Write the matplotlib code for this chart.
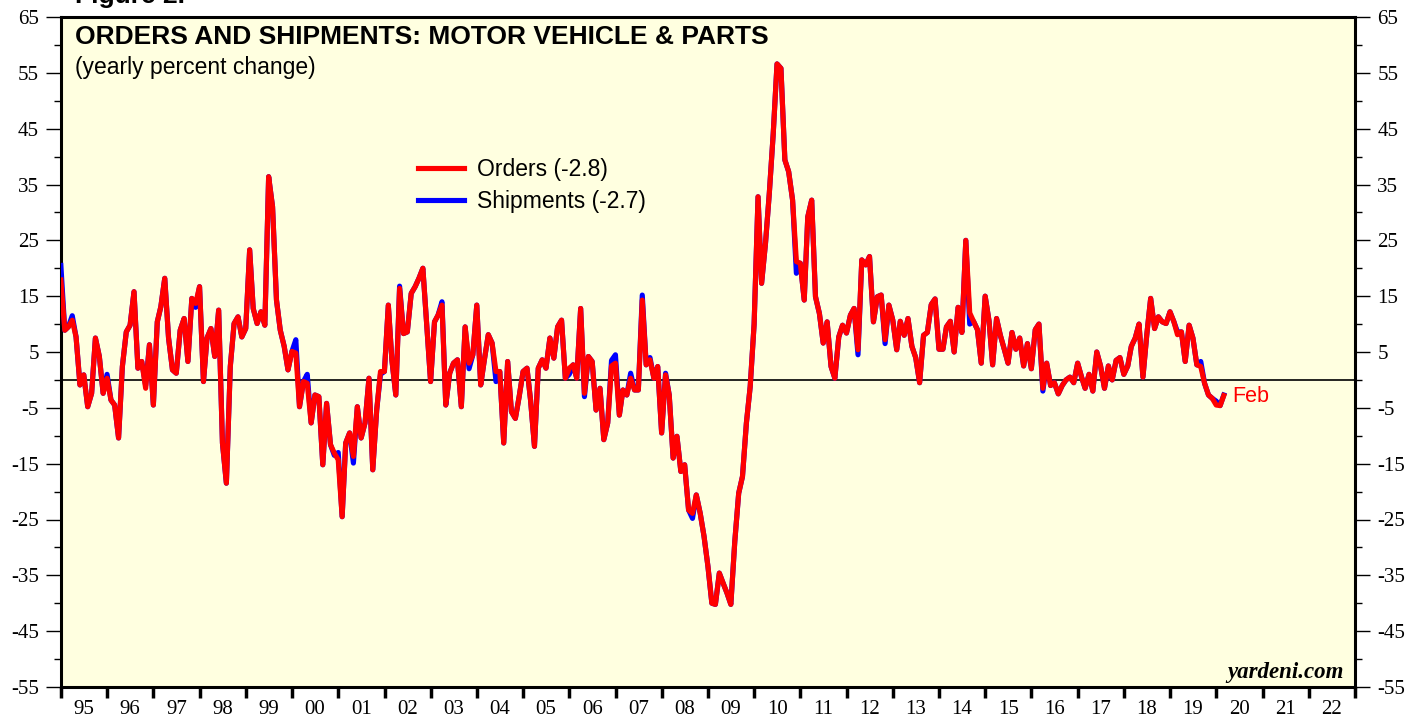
import matplotlib
matplotlib.use("Agg")
import matplotlib.pyplot as plt
import pandas as pd

plt.rcParams["font.family"] = ["Liberation Serif", "DejaVu Serif"]
plt.rcParams["axes.unicode_minus"] = False

# monthly yearly % change, Dec 1994 .. Feb 2020
orders_1 = [
    17.9, 8.9, 9.5, 10.7, 7.7, -0.9, 0.9, -4.8, -2.4, 7.5, 4.2, -2.4,
    0.3, -3.6, -4.5, -10.4, 2.4, 8.6, 9.8, 15.8, 2.1, 3.3, -1.5, 6.3,
    -4.5, 10.4, 13.1, 18.2, 7.5, 1.8, 1.2, 8.9, 11.0, 3.3, 14.6, 13.7,
    16.7, -0.3, 7.5, 9.2, 4.2, 12.5, -11.3, -18.5, 2.4, 10.1, 11.3, 7.7,
    9.2, 23.3, 12.8, 10.1, 12.2, 9.8, 36.4, 31.0, 14.3, 8.9, 6.0, 1.8,
]
orders_2 = [
    5.1, 4.8, -4.8, -0.3, -0.6, -7.7, -2.7, -3.0, -15.2, -4.2, -11.6, -13.1,
    -14.3, -24.5, -11.3, -9.5, -13.7, -4.8, -10.4, -7.7, 0.3, -16.1, -5.4, 1.5,
    1.5, 13.4, 3.6, -2.7, 16.4, 8.3, 8.6, 15.5, 16.7, 18.2, 20.0, 10.1,
    -0.3, 10.4, 11.6, 13.4, -4.5, 1.2, 3.0, 3.6, -4.8, 9.5, 3.0, 4.5,
    13.4, -0.9, 3.6, 8.1, 6.6, 1.5, 1.5, -11.3, 3.3, -5.7, -6.9, -3.0,
]
orders_3 = [
    1.5, 2.1, -3.6, -11.9, 2.1, 3.6, 2.1, 7.5, 3.9, 9.5, 10.7, 0.3,
    2.1, 2.7, 0.3, 12.8, -2.4, 4.2, 3.3, -5.4, -1.5, -10.7, -7.7, 2.5,
    3.0, -6.3, -1.8, -2.7, 0.3, -1.8, -1.8, 14.3, 2.7, 3.6, 0.3, 2.4,
    -9.5, 0.9, -2.7, -14.0, -10.1, -16.4, -15.2, -23.3, -23.9, -20.6, -23.9, -28.0,
    -33.4, -40.0, -40.2, -34.6, -36.4, -38.2, -40.2, -29.0, -20.3, -17.3, -7.7, -1.2,
]
orders_4 = [
    10.0, 32.8, 17.3, 24.5, 33.4, 44.1, 56.6, 55.8, 39.4, 37.3, 32.2, 21.2,
    20.9, 14.3, 29.2, 32.2, 14.9, 11.9, 6.6, 10.4, 2.4, 0.3, 7.7, 9.8,
    8.4, 11.6, 12.8, 5.4, 21.5, 20.6, 22.1, 10.4, 14.9, 15.2, 7.2, 13.4,
    10.7, 5.4, 10.5, 8.0, 11.0, 6.0, 4.0, -0.5, 8.0, 8.5, 13.5, 14.5,
    5.5, 5.5, 9.5, 10.5, 5.0, 13.0, 8.5, 25.0, 12.0, 10.5, 9.0, 3.0,
]
orders_5 = [
    15.0, 10.5, 2.7, 11.0, 8.0, 5.5, 3.0, 8.5, 5.5, 7.5, 2.5, 6.5,
    2.0, 9.0, 10.0, -1.5, 3.0, -1.0, -0.5, -2.5, -1.0, 0.0, 0.5, -0.5,
    3.0, 0.5, -1.5, 1.0, -2.0, 5.0, 2.5, -1.5, 2.5, 0.0, 3.5, 4.0,
    1.0, 2.5, 6.0, 7.5, 10.0, 0.5, 8.0, 14.6, 9.2, 11.3, 10.4, 10.1,
    12.2, 10.4, 8.1, 8.6, 3.3, 9.8, 7.5, 2.7, 2.4, -0.6, -2.7, -3.3,
    -4.5, -4.6, -2.8,
]

shipments_1 = [
    20.5, 8.9, 9.5, 11.5, 7.7, -0.9, 0.9, -4.8, -2.4, 7.5, 4.2, -2.4,
    1.0, -3.6, -4.5, -10.4, 2.4, 8.6, 9.8, 15.8, 2.1, 3.3, -1.0, 6.3,
    -4.5, 10.4, 13.1, 18.2, 7.5, 1.8, 1.2, 8.9, 11.0, 3.3, 14.6, 13.0,
    16.7, -0.3, 7.5, 9.2, 4.2, 12.5, -11.3, -18.5, 2.4, 10.1, 11.3, 7.7,
    9.2, 23.3, 12.8, 10.1, 12.2, 9.8, 36.4, 31.0, 14.3, 8.9, 6.0, 1.8,
]
shipments_2 = [
    5.1, 7.2, -4.8, -0.3, 1.0, -7.7, -2.7, -3.0, -15.2, -4.2, -11.6, -13.5,
    -13.0, -24.5, -11.3, -9.5, -14.9, -4.8, -10.4, -7.7, 0.3, -16.1, -5.4, 1.0,
    1.5, 13.4, 3.6, -2.7, 16.8, 8.3, 8.6, 15.5, 16.7, 18.2, 20.0, 10.1,
    -0.3, 10.4, 11.6, 14.0, -4.5, 1.2, 3.0, 3.6, -4.8, 9.5, 2.0, 4.5,
    13.4, -0.9, 3.6, 8.1, 6.6, -0.3, 1.5, -11.3, 3.3, -5.7, -6.9, -3.0,
]
shipments_3 = [
    1.5, 2.1, -3.6, -11.9, 2.1, 3.6, 2.1, 7.5, 3.9, 9.5, 10.7, 0.3,
    1.0, 2.7, 0.3, 12.8, -3.0, 4.2, 3.3, -5.4, -1.5, -10.7, -7.7, 3.5,
    4.5, -6.3, -1.8, -2.7, 1.2, -1.8, -1.8, 15.2, 2.7, 4.0, 0.3, 2.4,
    -9.5, 1.2, -2.7, -14.0, -10.1, -16.4, -15.2, -23.3, -24.8, -20.6, -23.9, -28.0,
    -33.4, -40.0, -40.2, -34.6, -36.4, -38.2, -40.2, -29.0, -20.3, -17.3, -7.7, -1.2,
]
shipments_4 = [
    10.0, 32.8, 17.3, 24.5, 33.4, 44.1, 56.6, 55.8, 39.4, 37.3, 32.2, 19.1,
    20.9, 14.3, 29.2, 32.2, 14.9, 11.9, 6.6, 10.4, 2.4, 0.3, 7.7, 9.8,
    8.4, 11.6, 12.8, 4.5, 21.5, 20.6, 22.1, 10.4, 14.9, 15.2, 6.5, 13.4,
    10.7, 5.4, 10.5, 8.0, 11.0, 6.0, 4.0, -0.5, 8.0, 8.5, 13.5, 14.5,
    5.5, 5.5, 9.5, 10.5, 5.0, 13.0, 8.5, 25.0, 10.0, 10.5, 9.0, 3.0,
]
shipments_5 = [
    15.0, 10.5, 2.7, 11.0, 8.0, 5.5, 3.0, 8.5, 5.5, 7.5, 2.5, 6.5,
    2.0, 9.0, 10.0, -2.0, 3.0, -1.0, -0.5, -2.5, -1.0, 0.0, 0.5, -0.5,
    3.0, 0.5, -1.5, 1.0, -2.0, 5.0, 2.5, -1.5, 2.5, 0.0, 3.5, 4.0,
    1.0, 2.5, 6.0, 7.5, 10.0, 0.5, 8.0, 14.6, 9.2, 11.3, 10.4, 10.1,
    12.2, 10.4, 8.6, 8.6, 3.3, 9.8, 7.5, 2.7, 3.3, -0.6, -2.7, -3.3,
    -3.8, -4.6, -2.7,
]

orders = orders_1 + orders_2 + orders_3 + orders_4 + orders_5
shipments = shipments_1 + shipments_2 + shipments_3 + shipments_4 + shipments_5
dates = pd.date_range("1994-12-31", periods=len(orders), freq=pd.offsets.MonthEnd())

first_year, last_year = 1995, 2023
year_starts = pd.to_datetime([f"{y}-01-01" for y in range(first_year, last_year + 1)])
mid_years = pd.to_datetime([f"{y}-07-01" for y in range(first_year, last_year)])
year_labels = [f"{y % 100:02d}" for y in range(first_year, last_year)]

fig = plt.figure(figsize=(14.26, 7.17), dpi=100)
ax = fig.add_axes([61 / 1426, 30 / 717, 1294 / 1426, 670 / 717])
ax.set_facecolor("#FFFFE0")
for s in ax.spines.values():
    s.set_linewidth(2.2)

blue, = ax.plot(dates, shipments, color="#0000FF", lw=3.7, zorder=3)
red, = ax.plot(dates, orders, color="#FF0000", lw=3.7, zorder=4)
ax.axhline(0, color="black", lw=1.2, zorder=2)

ax.set_xlim(year_starts[0], year_starts[-1])
ax.set_ylim(-55, 65)
ax.set_yticks(range(-55, 66, 10))
ax.set_yticks(range(-50, 61, 10), minor=True)
ax.set_xticks(year_starts)
ax.set_xticklabels([])
ax.set_xticks(mid_years, minor=True)
ax.set_xticklabels(year_labels, minor=True)

ax.tick_params(axis="y", which="major", direction="out", length=11, width=1,
               left=True, right=True, labelleft=True, labelright=True, pad=5, labelsize=15)
ax.tick_params(axis="y", which="minor", direction="out", length=5, width=1, left=True, right=True)
ax.tick_params(axis="x", which="major", direction="out", length=8, width=2.5)
ax.tick_params(axis="x", which="minor", length=0, pad=9, labelsize=15)

sans = "Liberation Sans"
ax.text(0.0108, 0.970, "ORDERS AND SHIPMENTS: MOTOR VEHICLE & PARTS", transform=ax.transAxes,
        fontfamily=sans, fontweight="bold", fontsize=19, ha="left", va="center")
ax.text(0.0108, 0.925, "(yearly percent change)", transform=ax.transAxes,
        fontfamily=sans, fontsize=16.5, ha="left", va="center")
fig.text(75 / 1426, 1 - 3 / 717, "Figure 2.", fontfamily=sans, fontweight="bold",
         fontsize=19, va="baseline")

ax.legend([red, blue], [f"Orders ({orders[-1]:.1f})", f"Shipments ({shipments[-1]:.1f})"],
          loc="upper left", bbox_to_anchor=(0.276, 0.79), frameon=False,
          prop={"family": sans, "size": 16.5}, handlelength=2.0, handletextpad=0.55,
          labelspacing=0.4, borderpad=0, borderaxespad=0)

ax.annotate("Feb", xy=(dates[-1], orders[-1]), xytext=(6, -1), textcoords="offset points",
            color="#FF0000", fontfamily=sans, fontsize=15.5, va="center", ha="left")
ax.text(0.9915, 0.022, "yardeni.com", transform=ax.transAxes, fontstyle="italic",
        fontweight="bold", fontsize=16.5, ha="right", va="center")

fig.savefig("out.png", dpi=100)
